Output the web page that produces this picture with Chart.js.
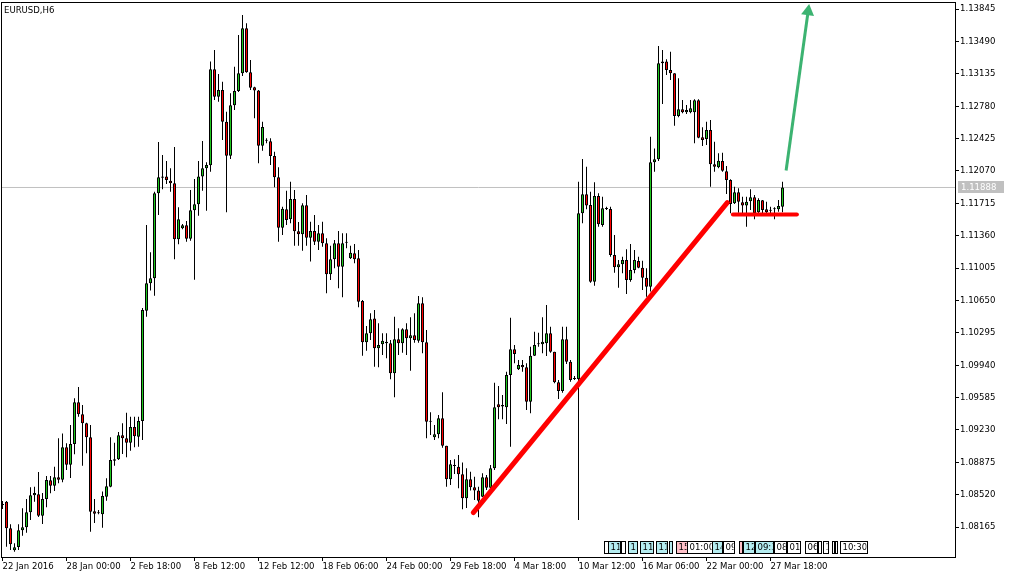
<!DOCTYPE html>
<html>
<head>
<meta charset="utf-8">
<script src="https://cdn.jsdelivr.net/npm/chart.js@4.4.0/dist/chart.umd.min.js"></script>
<style>
  html, body { margin: 0; padding: 0; background: #fff; }
  canvas { display: block; }
</style>
</head>
<body>
<canvas id="chartCanvas" width="1010" height="578"></canvas>
<script>
"use strict";

const symbol = "EURUSD,H6";

// H6 candles, one per bar, oldest first
const opens = [
  1.08407, 1.08443, 1.08151, 1.07910, 1.07946, 1.08129, 1.08162, 1.08327, 1.08513, 1.08524,
  1.08289, 1.08473, 1.08678, 1.08618, 1.08710, 1.08684, 1.09039, 1.08849, 1.09076, 1.09533,
  1.09401, 1.09303, 1.09149, 1.08338, 1.08317, 1.08305, 1.08498, 1.08607, 1.08892, 1.08908,
  1.09171, 1.09138, 1.09090, 1.09262, 1.09156, 1.09328, 1.10537, 1.10838, 1.10892, 1.11825,
  1.11996, 1.12007, 1.11963, 1.11934, 1.11320, 1.11441, 1.11474, 1.11327, 1.11638, 1.11704,
  1.12007, 1.12099, 1.12132, 1.13184, 1.12884, 1.12957, 1.12610, 1.12237, 1.12789, 1.12946,
  1.13140, 1.13634, 1.13151, 1.12987, 1.12950, 1.12346, 1.12401, 1.12395, 1.12234, 1.12000,
  1.11447, 1.11649, 1.11539, 1.11762, 1.11408, 1.11375, 1.11693, 1.11338, 1.11411, 1.11294,
  1.11386, 1.11276, 1.10936, 1.11101, 1.11276, 1.11020, 1.11283, 1.11112, 1.11167, 1.11112,
  1.10643, 1.10191, 1.10289, 1.10450, 1.10125, 1.10169, 1.10197, 1.10180, 1.09851, 1.10224,
  1.10180, 1.10333, 1.10235, 1.10267, 1.10208, 1.10618, 1.10191, 1.09320, 1.09149, 1.09182,
  1.09357, 1.09057, 1.08689, 1.08834, 1.08827, 1.08743, 1.08480, 1.08689, 1.08601, 1.08564,
  1.08498, 1.08710, 1.08596, 1.08809, 1.09511, 1.09487, 1.09478, 1.09832, 1.10114, 1.09895,
  1.09942, 1.09917, 1.09539, 1.10044, 1.10169, 1.10169, 1.10180, 1.10289, 1.10088, 1.09752,
  1.09657, 1.10224, 1.09978, 1.09788, 1.09788, 1.11605, 1.11814, 1.11696, 1.10855, 1.11795,
  1.11477, 1.11652, 1.11652, 1.11148, 1.11013, 1.11046, 1.11093, 1.10874, 1.10983, 1.11082,
  1.11009, 1.10899, 1.10800, 1.12164, 1.12197, 1.13250, 1.13268, 1.13176, 1.13140, 1.12672,
  1.12746, 1.12713, 1.12713, 1.12713, 1.12844, 1.12439, 1.12420, 1.12519, 1.12142, 1.12110,
  1.12179, 1.12066, 1.11970, 1.11715, 1.11835, 1.11726, 1.11689, 1.11737, 1.11781, 1.11616,
  1.11748, 1.11649, 1.11634, 1.11649, 1.11649, 1.11678
];
const highs = [
  1.08451, 1.08450, 1.08195, 1.07987, 1.08195, 1.08371, 1.08473, 1.08601, 1.08607, 1.08769,
  1.08538, 1.08725, 1.08725, 1.08827, 1.09138, 1.09189, 1.09083, 1.09284, 1.09577, 1.09701,
  1.09503, 1.09309, 1.09284, 1.08473, 1.08352, 1.08553, 1.08699, 1.09149, 1.09090, 1.09207,
  1.09303, 1.09419, 1.09375, 1.09375, 1.09375, 1.10567, 1.11477, 1.11178, 1.11842, 1.12387,
  1.12244, 1.12179, 1.12099, 1.12332, 1.11671, 1.11488, 1.11521, 1.11861, 1.11981, 1.12179,
  1.12398, 1.12164, 1.13268, 1.13396, 1.13133, 1.13048, 1.12719, 1.12921, 1.13213, 1.13560,
  1.13780, 1.13689, 1.13286, 1.12993, 1.12957, 1.12610, 1.12428, 1.12428, 1.12281, 1.12110,
  1.11678, 1.11853, 1.11952, 1.11861, 1.11510, 1.11715, 1.11806, 1.11513, 1.11587, 1.11477,
  1.11513, 1.11331, 1.11250, 1.11312, 1.11411, 1.11386, 1.11386, 1.11250, 1.11269, 1.11203,
  1.10655, 1.10369, 1.10509, 1.10545, 1.10399, 1.10289, 1.10289, 1.10216, 1.10471, 1.10344,
  1.10344, 1.10399, 1.10465, 1.10509, 1.10698, 1.10684, 1.10326, 1.09423, 1.09284, 1.09394,
  1.09642, 1.09057, 1.08900, 1.08908, 1.08955, 1.08871, 1.08809, 1.08772, 1.08717, 1.08607,
  1.08754, 1.08736, 1.08845, 1.09748, 1.09712, 1.09613, 1.09868, 1.10460, 1.10161, 1.09997,
  1.09997, 1.09960, 1.10142, 1.10307, 1.10296, 1.10465, 1.10600, 1.10362, 1.10088, 1.09777,
  1.10362, 1.10362, 1.09997, 1.09821, 1.11952, 1.12201, 1.12116, 1.11842, 1.11945, 1.11825,
  1.11787, 1.11678, 1.11678, 1.11367, 1.11093, 1.11129, 1.11210, 1.11269, 1.11203, 1.11129,
  1.11085, 1.11002, 1.12445, 1.12316, 1.13440, 1.13396, 1.13294, 1.13377, 1.13140, 1.13085,
  1.12848, 1.12793, 1.12848, 1.12855, 1.12855, 1.12548, 1.12610, 1.12628, 1.12390, 1.12263,
  1.12270, 1.12124, 1.11978, 1.11897, 1.11879, 1.11787, 1.11787, 1.11868, 1.11806, 1.11770,
  1.11751, 1.11732, 1.11678, 1.11671, 1.11751, 1.11952
];
const lows = [
  1.08363, 1.07949, 1.07913, 1.07895, 1.07913, 1.08070, 1.08103, 1.08242, 1.08443, 1.08275,
  1.08198, 1.08382, 1.08535, 1.08560, 1.08645, 1.08656, 1.08790, 1.08703, 1.08963, 1.09375,
  1.08838, 1.08974, 1.08114, 1.08209, 1.08305, 1.08158, 1.08454, 1.08601, 1.08838, 1.08900,
  1.08966, 1.08930, 1.09002, 1.09039, 1.09046, 1.09119, 1.10471, 1.10757, 1.10702, 1.11587,
  1.11868, 1.11926, 1.11842, 1.11101, 1.11265, 1.11430, 1.11294, 1.11305, 1.10877, 1.11579,
  1.11853, 1.11634, 1.12061, 1.12848, 1.12829, 1.12409, 1.11616, 1.12201, 1.12738, 1.12935,
  1.13111, 1.13147, 1.12957, 1.12647, 1.12153, 1.12292, 1.12373, 1.12135, 1.11890, 1.11294,
  1.11367, 1.11477, 1.11496, 1.11250, 1.11250, 1.11195, 1.11250, 1.11075, 1.11258, 1.11203,
  1.11239, 1.10728, 1.10874, 1.11002, 1.10783, 1.10684, 1.11221, 1.11104, 1.11057, 1.10574,
  1.10044, 1.10099, 1.10216, 1.09923, 1.09917, 1.10051, 1.10015, 1.09785, 1.09588, 1.10051,
  1.10077, 1.10051, 1.09879, 1.10186, 1.10186, 1.10070, 1.09138, 1.09174, 1.09119, 1.09138,
  1.09035, 1.08607, 1.08626, 1.08747, 1.08590, 1.08360, 1.08374, 1.08564, 1.08462, 1.08272,
  1.08495, 1.08571, 1.08590, 1.08790, 1.09346, 1.09346, 1.09295, 1.09046, 1.09960, 1.09887,
  1.09868, 1.09448, 1.09412, 1.10041, 1.10142, 1.10070, 1.10041, 1.10077, 1.09741, 1.09569,
  1.09638, 1.09953, 1.09759, 1.09777, 1.08242, 1.11496, 1.11649, 1.10844, 1.10811, 1.11458,
  1.11458, 1.11641, 1.11129, 1.10954, 1.10789, 1.10947, 1.10720, 1.10855, 1.10947, 1.11002,
  1.10764, 1.10691, 1.10746, 1.12061, 1.12179, 1.12804, 1.13122, 1.13067, 1.12566, 1.12658,
  1.12702, 1.12694, 1.12702, 1.12373, 1.12428, 1.12343, 1.12354, 1.11897, 1.12061, 1.12099,
  1.12061, 1.11817, 1.11605, 1.11707, 1.11612, 1.11605, 1.11458, 1.11641, 1.11539, 1.11605,
  1.11605, 1.11605, 1.11605, 1.11539, 1.11623, 1.11616
];
const closes = [
  1.08407, 1.08151, 1.07976, 1.07943, 1.08129, 1.08162, 1.08327, 1.08513, 1.08538, 1.08289,
  1.08473, 1.08681, 1.08618, 1.08710, 1.08684, 1.09039, 1.08849, 1.09076, 1.09533, 1.09401,
  1.09303, 1.09149, 1.08333, 1.08311, 1.08315, 1.08505, 1.08612, 1.08900, 1.08908, 1.09171,
  1.09138, 1.09090, 1.09262, 1.09160, 1.09328, 1.10545, 1.10838, 1.10892, 1.11825, 1.12000,
  1.12007, 1.11970, 1.11934, 1.11320, 1.11539, 1.11474, 1.11327, 1.11638, 1.11704, 1.12007,
  1.12099, 1.12135, 1.13184, 1.12884, 1.12957, 1.12610, 1.12237, 1.12789, 1.12946, 1.13140,
  1.13634, 1.13151, 1.12982, 1.12950, 1.12346, 1.12551, 1.12400, 1.12234, 1.12000, 1.11447,
  1.11656, 1.11532, 1.11762, 1.11408, 1.11375, 1.11693, 1.11338, 1.11411, 1.11294, 1.11386,
  1.11276, 1.10936, 1.11101, 1.11276, 1.11020, 1.11276, 1.11282, 1.11173, 1.11101, 1.10636,
  1.10191, 1.10289, 1.10443, 1.10125, 1.10161, 1.10208, 1.10180, 1.09851, 1.10224, 1.10180,
  1.10333, 1.10235, 1.10267, 1.10216, 1.10618, 1.10191, 1.09320, 1.09319, 1.09182, 1.09357,
  1.09057, 1.08689, 1.08853, 1.08833, 1.08743, 1.08480, 1.08689, 1.08601, 1.08564, 1.08454,
  1.08710, 1.08596, 1.08809, 1.09478, 1.09478, 1.09503, 1.09832, 1.10114, 1.10062, 1.09942,
  1.09917, 1.09539, 1.10044, 1.10161, 1.10168, 1.10197, 1.10289, 1.10088, 1.09752, 1.09657,
  1.10224, 1.09978, 1.09777, 1.09787, 1.11605, 1.11814, 1.11689, 1.10855, 1.11795, 1.11485,
  1.11660, 1.11651, 1.11148, 1.11013, 1.11046, 1.11093, 1.10874, 1.10983, 1.11093, 1.11009,
  1.10899, 1.10800, 1.12164, 1.12197, 1.13250, 1.13268, 1.13176, 1.13140, 1.12672, 1.12746,
  1.12713, 1.12738, 1.12757, 1.12844, 1.12434, 1.12409, 1.12519, 1.12142, 1.12116, 1.12182,
  1.12072, 1.11970, 1.11707, 1.11835, 1.11732, 1.11689, 1.11732, 1.11781, 1.11605, 1.11751,
  1.11641, 1.11616, 1.11633, 1.11648, 1.11685, 1.11888
];

// time axis: bar index that carries each label
const tickBars = [0, 16, 32, 48, 64, 80, 96, 112, 128, 144, 160, 176, 192];
const tickLabels = [
  "22 Jan 2016", "28 Jan 00:00", "2 Feb 18:00", "8 Feb 12:00", "12 Feb 12:00",
  "18 Feb 06:00", "24 Feb 00:00", "29 Feb 18:00", "4 Mar 18:00", "10 Mar 12:00",
  "16 Mar 06:00", "22 Mar 00:00", "27 Mar 18:00"
];
const priceTicks = [
  1.08165, 1.08520, 1.08875, 1.09230, 1.09585, 1.09940, 1.10295, 1.10650, 1.11005,
  1.11360, 1.11715, 1.12070, 1.12425, 1.12780, 1.13135, 1.13490, 1.13845
];
const lastPrice = 1.11888;

// hand drawn objects, in (bar, price)
const trendLine = [{ x: 117.7, y: 1.08322 }, { x: 181.2, y: 1.11721 }];
const supportLine = [{ x: 182.6, y: 1.11592 }, { x: 198.6, y: 1.11592 }];
const targetArrow = [{ x: 195.9, y: 1.12075 }, { x: 201.4, y: 1.13818 }];

// trade history tags along the bottom (bar span, text, kind)
const tradeTags = [
  { from: 150.4, to: 151.3, text: "", kind: "plain" },
  { from: 151.4, to: 154.4, text: "11", kind: "buy" },
  { from: 154.7, to: 155.5, text: "", kind: "plain" },
  { from: 156.4, to: 158.6, text: "1", kind: "buy" },
  { from: 159.4, to: 162.6, text: "11", kind: "buy" },
  { from: 163.4, to: 166.1, text: "11", kind: "buy" },
  { from: 166.6, to: 167.4, text: "", kind: "buy" },
  { from: 168.4, to: 171.1, text: "15", kind: "sell" },
  { from: 171.2, to: 177.4, text: "01:00", kind: "plain" },
  { from: 177.4, to: 179.9, text: "14", kind: "buy" },
  { from: 180.1, to: 182.9, text: "09", kind: "plain" },
  { from: 184.0, to: 184.8, text: "", kind: "sell" },
  { from: 185.1, to: 187.9, text: "12", kind: "buy" },
  { from: 188.1, to: 192.6, text: "09:3", kind: "buy" },
  { from: 192.9, to: 195.9, text: "08", kind: "plain" },
  { from: 196.1, to: 199.4, text: "01:", kind: "plain" },
  { from: 200.6, to: 203.6, text: "06", kind: "plain" },
  { from: 203.9, to: 204.6, text: "", kind: "plain" },
  { from: 205.0, to: 206.4, text: "1(", kind: "plain" },
  { from: 207.4, to: 207.9, text: "", kind: "plain" },
  { from: 208.1, to: 208.6, text: "", kind: "plain" },
  { from: 209.4, to: 216.1, text: "10:30", kind: "plain" }
];

const upColor = "#1ec81e";
const downColor = "#ff0000";
const fontFamily = "'DejaVu Sans Condensed', 'DejaVu Sans', sans-serif";
const tagFill = { plain: "#ffffff", buy: "#b4ecf0", sell: "#ffc0c8" };

const chartDecor = {
  id: "chartDecor",
  beforeDraw(chart) {
    const { ctx, width, height } = chart;
    ctx.save();
    ctx.fillStyle = "#fff";
    ctx.fillRect(0, 0, width, height);
    ctx.restore();
  },
  afterDraw(chart) {
    const { ctx, chartArea: a } = chart;
    const xs = chart.scales.x;
    const ys = chart.scales.y;
    ctx.save();

    // trade tags
    ctx.font = "9.5px " + fontFamily;
    ctx.textBaseline = "middle";
    tradeTags.forEach(tag => {
      const x0 = Math.round(xs.getPixelForValue(tag.from)) + 0.5;
      const x1 = Math.round(xs.getPixelForValue(tag.to)) + 0.5;
      const y0 = a.bottom - 15.5;
      const h = 12;
      ctx.fillStyle = tagFill[tag.kind];
      ctx.fillRect(x0, y0, x1 - x0, h);
      ctx.strokeStyle = "#000";
      ctx.lineWidth = 1;
      ctx.strokeRect(x0, y0, x1 - x0, h);
      if (tag.text) {
        ctx.save();
        ctx.beginPath();
        ctx.rect(x0 + 1, y0, x1 - x0 - 2, h);
        ctx.clip();
        ctx.fillStyle = "#000";
        ctx.fillText(tag.text, x0 + 2, y0 + h / 2 + 0.5);
        ctx.restore();
      }
    });

    // frame
    ctx.strokeStyle = "#000";
    ctx.lineWidth = 1;
    ctx.strokeRect(a.left - 0.5, a.top - 0.5, a.right - a.left + 1, a.bottom - a.top + 1);

    // symbol and period
    ctx.fillStyle = "#000";
    ctx.font = "9.5px " + fontFamily;
    ctx.textBaseline = "middle";
    ctx.fillText(symbol, a.left + 2, a.top + 8);

    // last price tag on the scale
    const py = Math.round(ys.getPixelForValue(lastPrice));
    ctx.fillStyle = "#c0c0c0";
    ctx.fillRect(a.right + 3, py - 6, 46, 12);
    ctx.fillStyle = "#ffffff";
    ctx.fillText(lastPrice.toFixed(5), a.right + 6, py + 0.5);
    ctx.restore();
  }
};

document.addEventListener("DOMContentLoaded", () => {
  const ctx = document.querySelector("#chartCanvas").getContext("2d");

  const wickData = highs.map((h, i) => ({ x: i, y: [lows[i], h] }));
  const bodyData = opens.map((o, i) => ({ x: i, y: [o, closes[i]] }));
  const bodyColors = opens.map((o, i) => (closes[i] >= o ? upColor : downColor));

  new Chart(ctx, {
    type: "bar",
    data: {
      datasets: [
        {
          type: "line",
          data: targetArrow,
          borderColor: "#3cb371",
          backgroundColor: "#3cb371",
          borderWidth: 3,
          pointRadius: [0, 7.5],
          pointStyle: "triangle",
          pointRotation: 8,
          pointBorderWidth: 0,
          pointBackgroundColor: "#3cb371",
          clip: false,
          order: 0
        },
        {
          type: "line",
          data: trendLine,
          borderColor: "#ff0000",
          borderWidth: 5,
          borderCapStyle: "round",
          pointRadius: 0,
          order: 1
        },
        {
          type: "line",
          data: supportLine,
          borderColor: "#ff0000",
          borderWidth: 4,
          borderCapStyle: "round",
          pointRadius: 0,
          order: 1
        },
        {
          data: bodyData,
          backgroundColor: bodyColors,
          borderColor: "#000",
          borderWidth: 1,
          borderSkipped: false,
          barThickness: 3,
          minBarLength: 1,
          inflateAmount: 0,
          grouped: false,
          order: 4
        },
        {
          data: wickData,
          backgroundColor: "#000",
          borderWidth: 0,
          barThickness: 1,
          minBarLength: 1,
          inflateAmount: 0,
          grouped: false,
          order: 5
        },
        {
          type: "line",
          data: [{ x: -1, y: lastPrice }, { x: 240, y: lastPrice }],
          borderColor: "#c0c0c0",
          borderWidth: 1,
          pointRadius: 0,
          order: 10
        }
      ]
    },
    options: {
      responsive: false,
      animation: false,
      events: [],
      layout: { autoPadding: false, padding: { left: 2, top: 3, right: 0, bottom: 0 } },
      plugins: {
        legend: { display: false },
        tooltip: { enabled: false }
      },
      scales: {
        x: {
          type: "linear",
          min: -0.125,
          max: 238.125,
          offset: false,
          border: { display: false },
          grid: { display: true, offset: false, drawOnChartArea: false, tickLength: 4, color: "#000" },
          afterBuildTicks: axis => {
            axis.ticks = tickBars.map(v => ({ value: v }));
          },
          afterFit: axis => {
            axis.height = 21;
            axis.paddingLeft = 0;
            axis.paddingRight = 0;
          },
          ticks: {
            autoSkip: false,
            maxRotation: 0,
            align: "start",
            padding: 0,
            color: "#000",
            font: { family: fontFamily, size: 9.5 },
            callback: (value, index) => tickLabels[index]
          }
        },
        y: {
          type: "linear",
          position: "right",
          min: 1.078361,
          max: 1.139108,
          beginAtZero: false,
          border: { display: false },
          grid: { display: true, drawOnChartArea: false, tickLength: 4, color: "#000" },
          afterBuildTicks: axis => {
            axis.ticks = priceTicks.map(v => ({ value: v }));
          },
          afterFit: axis => {
            axis.width = 55;
            axis.paddingTop = 0;
            axis.paddingBottom = 0;
          },
          ticks: {
            padding: 1,
            color: "#000",
            font: { family: fontFamily, size: 9.5, lineHeight: 0.2 },
            callback: value => value.toFixed(5)
          }
        }
      }
    },
    plugins: [chartDecor]
  });
});
</script>
</body>
</html>
